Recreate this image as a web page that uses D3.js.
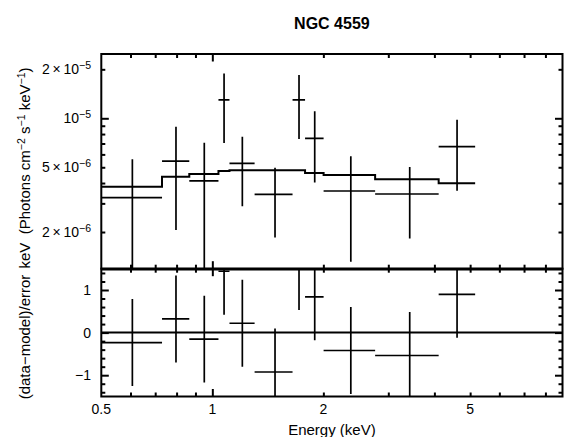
<!DOCTYPE html>
<html><head><meta charset="utf-8">
<script src="https://cdn.jsdelivr.net/npm/d3@7"></script>
<style>body{margin:0;background:#fff}svg{display:block;font-family:"Liberation Sans",Arial,Helvetica,sans-serif}text{white-space:pre}</style>
</head><body><svg id="c" width="564" height="437"></svg>
<script>
// ---- data ----
const title = "NGC 4559";
const binLo  = [0.5, 0.7305, 0.866, 1.039, 1.113, 1.302, 1.650, 1.784, 2.003, 2.763, 4.108];
const binHi  = [0.7305, 0.866, 1.039, 1.113, 1.302, 1.650, 1.784, 2.003, 2.763, 4.108, 5.159];
const binMid = [0.607, 0.797, 0.951, 1.076, 1.206, 1.479, 1.718, 1.895, 2.374, 3.429, 4.608];
const flux    = [3.25e-6, 5.46e-6, 4.13e-6, 1.296e-5, 5.29e-6, 3.41e-6, 1.296e-5, 7.535e-6, 3.574e-6, 3.425e-6, 6.69e-6];
const fluxErr = [2.35e-6, 3.4e-6, 2.95e-6, 5.9e-6, 2.41e-6, 1.56e-6, 5.5e-6, 3.5e-6, 2.26e-6, 1.6e-6, 3.1e-6];
const model   = [3.80e-6, 4.375e-6, 4.546e-6, 4.744e-6, 4.79e-6, 4.79e-6, 4.79e-6, 4.61e-6, 4.48e-6, 4.22e-6, 3.99e-6];
const resid    = [-0.234, 0.32, -0.154, 1.44, 0.22, -0.925, 1.55, 0.84, -0.42, -0.537, 0.897];
const residErr = [1.02, 1.02, 1.02, 1.02, 1.02, 1.02, 1.02, 1.02, 1.02, 1.02, 1.02];

const xMinorTicks = [0.6, 0.7, 0.8, 0.9, 2, 3, 4, 5, 6, 7, 8];
const xMajorTicks = [1];
const xTickLabels = [0.5, 1, 2, 5];
const yTopMinorTicks = [2e-6, 3e-6, 4e-6, 5e-6, 6e-6, 7e-6, 8e-6, 9e-6, 2e-5];
const yTopMajorTicks = [1e-5];
const yTopLabelVals = [2e-5, 1e-5, 5e-6, 2e-6];
const yTopLabelMant = ["2\u2009\u00d7\u200910", "10", "5\u2009\u00d7\u200910", "2\u2009\u00d7\u200910"];
const yTopLabelExp  = ["\u22125", "\u22125", "\u22126", "\u22126"];
const yBotMinorTicks = [-1.4, -1.2, -0.8, -0.6, -0.4, -0.2, 0.2, 0.4, 0.6, 0.8, 1.2, 1.4];
const yBotMajorTicks = [-1, 0, 1];
const yBotLabels = ["\u22121", "0", "1"];

// ---- layout ----
const L = 101.3, R = 562.5, T = 54, M = 268.7, B = 396.5;
const svg = d3.select("#c");
const x = d3.scaleLog().domain([0.5, 8.9]).range([L, R]);
const yT = d3.scaleLog().domain([1.19e-6, 2.484e-5]).range([M, T]);
const yB = d3.scaleLinear().domain([-1.5, 1.5]).range([B, M]);

const defs = svg.append("defs");
defs.append("clipPath").attr("id", "clipT").append("rect").attr("x", L).attr("y", T).attr("width", R - L).attr("height", M - T);
defs.append("clipPath").attr("id", "clipB").append("rect").attr("x", L).attr("y", M).attr("width", R - L).attr("height", B - M);

const idx = d3.range(flux.length);

// ---- top panel ----
const gT = svg.append("g").attr("clip-path", "url(#clipT)");
const stepPts = idx.map(i => [binLo[i], model[i]]).concat([[binHi[binHi.length - 1], model[model.length - 1]]]);
gT.append("path").attr("d", d3.line().x(d => x(d[0])).y(d => yT(d[1])).curve(d3.curveStepAfter)(stepPts))
  .attr("fill", "none").attr("stroke", "#000").attr("stroke-width", 2);
const yTsafe = v => v <= 0 ? M + 50 : yT(v);
gT.selectAll("line.h").data(idx).join("line").attr("class", "h")
  .attr("x1", i => x(binLo[i])).attr("x2", i => x(binHi[i]))
  .attr("y1", i => yT(flux[i])).attr("y2", i => yT(flux[i]))
  .attr("stroke", "#000").attr("stroke-width", 1.7);
gT.selectAll("line.v").data(idx).join("line").attr("class", "v")
  .attr("x1", i => x(binMid[i])).attr("x2", i => x(binMid[i]))
  .attr("y1", i => yTsafe(flux[i] + fluxErr[i])).attr("y2", i => yTsafe(flux[i] - fluxErr[i]))
  .attr("stroke", "#000").attr("stroke-width", 1.7);

// ---- bottom panel ----
const gB = svg.append("g").attr("clip-path", "url(#clipB)");
gB.append("line").attr("x1", L).attr("x2", R).attr("y1", yB(0)).attr("y2", yB(0)).attr("stroke", "#000").attr("stroke-width", 2);
gB.selectAll("line.h").data(idx).join("line").attr("class", "h")
  .attr("x1", i => x(binLo[i])).attr("x2", i => x(binHi[i]))
  .attr("y1", i => yB(resid[i])).attr("y2", i => yB(resid[i]))
  .attr("stroke", "#000").attr("stroke-width", 1.7);
gB.selectAll("line.v").data(idx).join("line").attr("class", "v")
  .attr("x1", i => x(binMid[i])).attr("x2", i => x(binMid[i]))
  .attr("y1", i => yB(resid[i] + residErr[i])).attr("y2", i => yB(resid[i] - residErr[i]))
  .attr("stroke", "#000").attr("stroke-width", 1.7);

// ---- axes (ticks point inward) ----
function ticks(axisFn, scale, vals, size, tx, ty) {
  const g = svg.append("g").attr("transform", `translate(${tx},${ty})`)
    .call(axisFn(scale).tickValues(vals).tickSizeInner(size).tickSizeOuter(0).tickFormat(""));
  g.select(".domain").remove();
  g.selectAll(".tick line").attr("stroke", "#000").attr("stroke-width", 2);
}
[[d3.axisTop, T], [d3.axisBottom, M], [d3.axisTop, M], [d3.axisBottom, B]].forEach(([fn, yy]) => {
  ticks(fn, x, xMinorTicks, -4, 0, yy);
  ticks(fn, x, xMajorTicks, -7.5, 0, yy);
});
ticks(d3.axisLeft, yT, yTopMinorTicks, -4, L, 0);
ticks(d3.axisLeft, yT, yTopMajorTicks, -7.5, L, 0);
ticks(d3.axisRight, yT, yTopMinorTicks, -4, R, 0);
ticks(d3.axisRight, yT, yTopMajorTicks, -7.5, R, 0);
ticks(d3.axisLeft, yB, yBotMinorTicks, -4, L, 0);
ticks(d3.axisLeft, yB, yBotMajorTicks, -7.5, L, 0);
ticks(d3.axisRight, yB, yBotMinorTicks, -4, R, 0);
ticks(d3.axisRight, yB, yBotMajorTicks, -7.5, R, 0);

// frames
svg.append("rect").attr("x", L).attr("y", T).attr("width", R - L).attr("height", M - T).attr("fill", "none").attr("stroke", "#000").attr("stroke-width", 2);
svg.append("rect").attr("x", L).attr("y", M).attr("width", R - L).attr("height", B - M).attr("fill", "none").attr("stroke", "#000").attr("stroke-width", 2);
svg.append("line").attr("x1", L).attr("x2", R).attr("y1", M + 0.5).attr("y2", M + 0.5).attr("stroke", "#000").attr("stroke-width", 2.5);

// ---- labels ----
const fs = 14;
svg.selectAll("text.xl").data(xTickLabels).join("text").attr("class", "xl")
  .attr("x", d => x(d)).attr("y", 414).attr("text-anchor", "middle").attr("font-size", fs).text(d => d);
const tl = svg.selectAll("text.yl").data(d3.range(yTopLabelVals.length)).join("text").attr("class", "yl")
  .attr("x", 91).attr("y", i => yT(yTopLabelVals[i]) + 5).attr("text-anchor", "end").attr("font-size", fs);
tl.append("tspan").text(i => yTopLabelMant[i]);
tl.append("tspan").attr("dy", -5).attr("font-size", 10.5).text(i => yTopLabelExp[i]);
svg.selectAll("text.yb").data(d3.range(yBotMajorTicks.length)).join("text").attr("class", "yb")
  .attr("x", 91).attr("y", i => yB(yBotMajorTicks[i]) + 5).attr("text-anchor", "end").attr("font-size", fs).text(i => yBotLabels[i]);

svg.append("text").attr("x", (L + R) / 2).attr("y", 28.5).attr("text-anchor", "middle").attr("font-size", 16).attr("font-weight", "bold").text(title);
svg.append("text").attr("x", (L + R) / 2).attr("y", 435).attr("text-anchor", "middle").attr("font-size", 15).text("Energy (keV)");

const ylab = svg.append("text").attr("transform", "translate(30,168) rotate(-90)").attr("text-anchor", "middle").attr("font-size", 15);
ylab.append("tspan").text("keV  (Photons cm");
ylab.append("tspan").attr("dy", -5).attr("font-size", 10.5).text("\u22122");
ylab.append("tspan").attr("dy", 5).text(" s");
ylab.append("tspan").attr("dy", -5).attr("font-size", 10.5).text("\u22121");
ylab.append("tspan").attr("dy", 5).text(" keV");
ylab.append("tspan").attr("dy", -5).attr("font-size", 10.5).text("\u22121");
ylab.append("tspan").attr("dy", 5).text(")");
svg.append("text").attr("transform", "translate(30,337) rotate(-90)").attr("text-anchor", "middle").attr("font-size", 15).text("(data\u2212model)/error");
</script></body></html>
